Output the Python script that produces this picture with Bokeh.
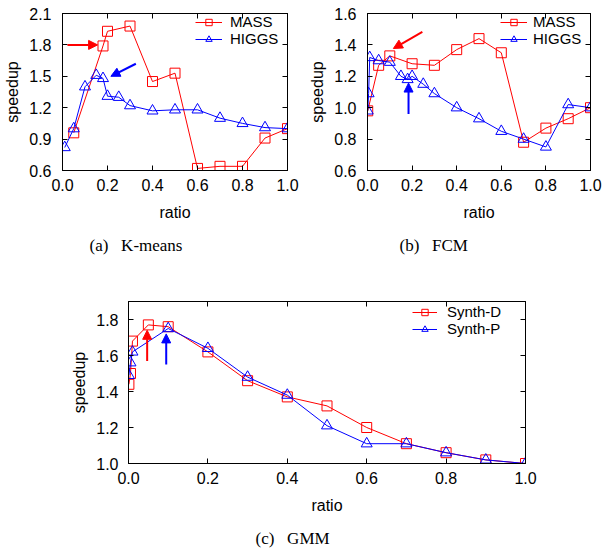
from bokeh.plotting import figure
from bokeh.models import (LinearAxis, FixedTicker, PrintfTickFormatter, CustomJSTickFormatter,
                          Arrow, NormalHead, Title, Legend, LegendItem, Range1d)
from bokeh.layouts import column, row
from bokeh.embed import file_html
from bokeh.resources import INLINE

RED = "#ff0000"
BLUE = "#0000ff"
SANS = "Liberation Sans"
SERIF = "Liberation Serif"
NB = "\u00a0"

# ---------------- data ----------------
x_ticks = [0.0, 0.2, 0.4, 0.6, 0.8, 1.0]

# (a) K-means
km_y_ticks = [0.6, 0.9, 1.2, 1.5, 1.8, 2.1]
km_mass_x = [0.05, 0.18, 0.2, 0.3, 0.4, 0.5, 0.6, 0.7, 0.8, 0.9, 1.0]
km_mass_y = [0.96, 1.79, 1.93, 1.98, 1.45, 1.53, 0.62, 0.64, 0.64, 0.91, 1.0]
km_higgs_x = [0.01, 0.05, 0.1, 0.15, 0.18, 0.2, 0.25, 0.3, 0.4, 0.5, 0.6, 0.7, 0.8, 0.9, 1.0]
km_higgs_y = [0.82, 1.0, 1.40, 1.51, 1.48, 1.31, 1.30, 1.22, 1.17, 1.18, 1.18, 1.10, 1.05, 1.01, 1.0]

# (b) FCM
fcm_y_ticks = [0.6, 0.8, 1.0, 1.2, 1.4, 1.6]
fcm_mass_x = [0.001, 0.05, 0.1, 0.2, 0.3, 0.4, 0.5, 0.6, 0.7, 0.8, 0.9, 1.0]
fcm_mass_y = [0.98, 1.27, 1.33, 1.28, 1.27, 1.37, 1.44, 1.35, 0.78, 0.87, 0.93, 1.0]
fcm_higgs_x = [0.001, 0.005, 0.01, 0.05, 0.1, 0.15, 0.18, 0.2, 0.25, 0.3, 0.4, 0.5, 0.6, 0.7, 0.8, 0.9, 1.0]
fcm_higgs_y = [0.98, 1.09, 1.32, 1.30, 1.29, 1.20, 1.18, 1.20, 1.15, 1.09, 1.00, 0.93, 0.85, 0.80, 0.75, 1.02, 1.00]

# (c) GMM
gmm_y_ticks = [1.0, 1.2, 1.4, 1.6, 1.8]
gmm_d_x = [0.001, 0.005, 0.01, 0.05, 0.1, 0.2, 0.3, 0.4, 0.5, 0.6, 0.7, 0.8, 0.9, 1.0]
gmm_d_y = [1.44, 1.50, 1.68, 1.77, 1.76, 1.62, 1.46, 1.37, 1.32, 1.20, 1.11, 1.06, 1.02, 1.0]
gmm_p_x = [0.001, 0.005, 0.01, 0.1, 0.2, 0.3, 0.4, 0.5, 0.6, 0.7, 0.8, 0.9, 1.0]
gmm_p_y = [1.49, 1.56, 1.62, 1.75, 1.64, 1.48, 1.38, 1.21, 1.11, 1.11, 1.06, 1.02, 1.0]

# annotation arrows: (x_start, y_start, x_end, y_end, colour)
km_arrows = [(0.022, 1.80, 0.156, 1.80, RED), (0.326, 1.62, 0.215, 1.50, BLUE)]
fcm_arrows = [(0.246, 1.483, 0.116, 1.377, RED), (0.184, 0.96, 0.184, 1.157, BLUE)]
gmm_arrows = [(0.047, 1.57, 0.047, 1.74, RED), (0.095, 1.55, 0.095, 1.72, BLUE)]


def style_axis(ax, ticks, fmt, standoff, label_standoff=6):
    ax.ticker = FixedTicker(ticks=ticks)
    ax.formatter = fmt
    ax.major_tick_in = 5
    ax.major_tick_out = 0
    ax.minor_tick_in = 0
    ax.minor_tick_out = 0
    ax.axis_line_color = "black"
    ax.axis_line_width = 1
    ax.major_tick_line_color = "black"
    ax.major_label_text_font = SANS
    ax.major_label_text_font_size = "16px"
    ax.major_label_text_color = "black"
    ax.major_label_standoff = standoff
    ax.axis_label_text_font = SANS
    ax.axis_label_text_font_size = "16px"
    ax.axis_label_text_font_style = "normal"
    ax.axis_label_text_color = "black"
    ax.axis_label_standoff = label_standoff


def make_panel(y_range, y_ticks, fw, fh, bl, br, bt, bb, ystand, caption, cap_offset):
    p = figure(frame_width=fw, frame_height=fh,
               x_range=Range1d(0, 1), y_range=Range1d(*y_range),
               min_border_left=bl, min_border_right=br,
               min_border_top=bt, min_border_bottom=bb,
               output_backend="svg", toolbar_location=None)
    p.grid.visible = False
    p.outline_line_color = "black"
    fmt = PrintfTickFormatter(format="%.1f")
    empty = CustomJSTickFormatter(code="return ''")
    xa = p.xaxis[0]
    ya = p.yaxis[0]
    style_axis(xa, x_ticks, fmt, 8, 10)
    style_axis(ya, y_ticks, fmt, ystand, 5)
    xa.axis_label = "ratio"
    ya.axis_label = "speedup"
    ra = LinearAxis()
    style_axis(ra, y_ticks, empty, 0)
    p.add_layout(ra, "right")
    ta = LinearAxis()
    style_axis(ta, x_ticks, empty, 0)
    p.add_layout(ta, "above")
    p.add_layout(Title(text=caption, align="left", offset=cap_offset,
                       text_font=SERIF, text_font_size="17px",
                       text_font_style="normal", text_color="black", standoff=20), "below")
    return p


def add_series(p, x, y, color, marker, size):
    lr = p.line(x, y, line_color=color, line_width=1)
    sr = p.scatter(x, y, marker=marker, size=size, line_color=color,
                   fill_color=None, line_width=1)
    return [lr, sr]


def add_legend(p, items, vx, fh, top_gap, standoff, gw):
    leg = Legend(items=[LegendItem(label=lab, renderers=r) for lab, r in items],
                 location=(vx, fh - top_gap - 34), padding=0, spacing=0, margin=0,
                 border_line_color=None, background_fill_alpha=0,
                 label_standoff=standoff, glyph_width=gw, glyph_height=16,
                 label_height=16, label_text_font=SANS,
                 label_text_font_size="15px", label_text_color="black")
    p.add_layout(leg)


def add_arrows(p, arrows):
    for xs, ys, xe, ye, c in arrows:
        p.add_layout(Arrow(end=NormalHead(size=9, fill_color=c, line_color=c),
                           x_start=xs, y_start=ys, x_end=xe, y_end=ye,
                           line_color=c, line_width=2))


# (a)
pa = make_panel((0.6, 2.1), km_y_ticks, 225, 157, 62, 13, 13, 95, 11,
                "(a)" + NB * 3 + "K-means", 27)
ra1 = add_series(pa, km_mass_x, km_mass_y, RED, "square", 10)
ra2 = add_series(pa, km_higgs_x, km_higgs_y, BLUE, "triangle", 11)
add_legend(pa, [("MASS", ra1), ("HIGGS", ra2)], 133, 157, 0, 8, 27)
add_arrows(pa, km_arrows)

# (b)
pb = make_panel((0.6, 1.6), fcm_y_ticks, 223, 157, 67, 12, 13, 95, 11,
                "(b)" + NB * 3 + "FCM", 32)
rb1 = add_series(pb, fcm_mass_x, fcm_mass_y, RED, "square", 10)
rb2 = add_series(pb, fcm_higgs_x, fcm_higgs_y, BLUE, "triangle", 11)
add_legend(pb, [("MASS", rb1), ("HIGGS", rb2)], 133, 157, 0, 6, 27)
add_arrows(pb, fcm_arrows)

# (c)
pc = make_panel((1.0, 1.9), gmm_y_ticks, 397, 162, 128, 70, 36, 84, 10,
                "(c)" + NB * 3 + "GMM", 127)
rc1 = add_series(pc, gmm_d_x, gmm_d_y, RED, "square", 10)
rc2 = add_series(pc, gmm_p_x, gmm_p_y, BLUE, "triangle", 11)
add_legend(pc, [("Synth-D", rc1), ("Synth-P", rc2)], 284, 162, 2, 10, 25)
add_arrows(pc, gmm_arrows)

layout = column(row(pa, pb), pc)
open("out.html", "w").write(file_html(layout, INLINE))
